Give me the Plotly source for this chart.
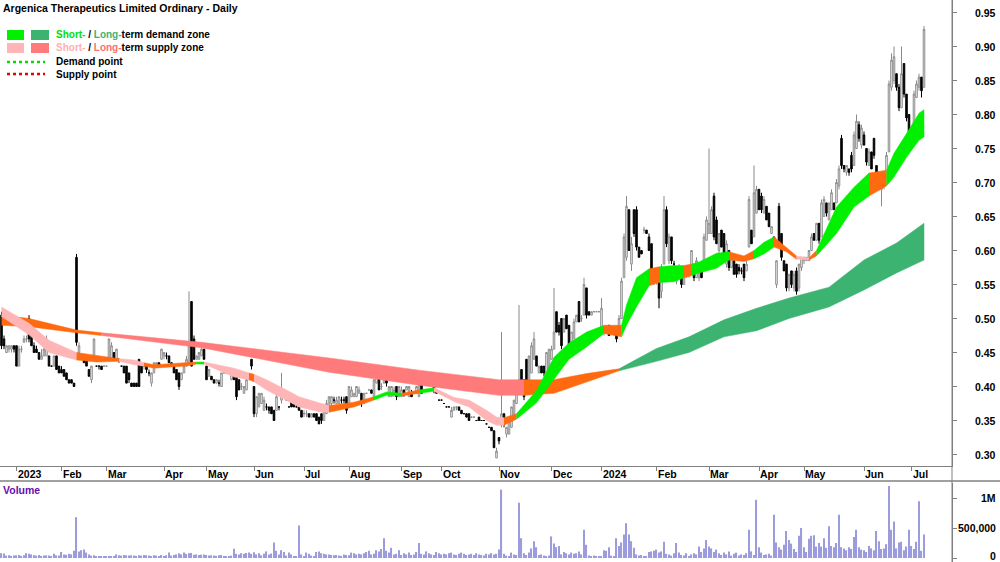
import plotly.graph_objects as go

TITLE = "Argenica Therapeutics Limited Ordinary - Daily"

month_labels = ["2023", "Feb", "Mar", "Apr", "May", "Jun", "Jul", "Aug", "Sep", "Oct", "Nov", "Dec",
                "2024", "Feb", "Mar", "Apr", "May", "Jun", "Jul"]
month_start_session = [6, 24, 42, 65, 82, 101, 121, 139, 160, 176, 199, 220, 240, 262, 283, 303, 321, 345, 364]

price_ticks = [0.30, 0.35, 0.40, 0.45, 0.50, 0.55, 0.60, 0.65, 0.70, 0.75, 0.80, 0.85, 0.90, 0.95]
volume_ticks = [0, 500000, 1000000]
volume_tick_text = ["0", "500,000", "1M"]

# daily prices in cents
open_c = [
    50.5, 47, 45, 45.5, 45.5, 46, 46, 43, 45.5, 46.5,
    47, 50, 49, 46, 45.5, 45, 44, 44.5, 44.5, 44.5,
    43, 43, 44.5, 43, 42.5, 42.5, 42, 41, 41, 40.5,
    59, 45, 44.5, 44.5, 44, 42.5, 41, 44, 43, 43,
    43, 43, 43, 44, 44, 45, 44, 44, 43, 43,
    43, 42, 40.5, 40.5, 40.5, 44, 43, 43, 43, 42,
    40.5, 42, 43, 43.5, 44, 44.5, 44.5, 44.5, 43.5, 43,
    42.5, 42, 41, 42, 43, 43.5, 52.5, 47, 44, 44,
    44.5, 45.5, 43, 41.5, 41.5, 41, 40.5, 40.5, 40, 42,
    42, 42, 41, 42, 41.5, 41, 40, 39, 39.5, 41,
    44, 40, 36, 37, 37.5, 36.5, 37, 37, 37, 36.5,
    36.5, 37, 38, 39.5, 38.5, 37, 38, 37.5, 37, 37,
    36.5, 36, 36, 36, 35.5, 36, 36, 35.5, 36, 35,
    36, 37, 37.5, 38, 37.5, 37.5, 38, 38, 38.5, 37.5,
    38.5, 38.5, 38.5, 39, 39, 37.5, 39, 39.5, 39.5, 38.5,
    40.5, 41.5, 40, 40.5, 42, 38.5, 38.5, 39, 40, 38.5,
    38.5, 39.5, 39.5, 38.5, 39, 39, 39, 38.5, 41, 40.5,
    41, 41, 41, 40, 39.5, 38, 38, 37.5, 37, 37,
    35.5, 36.5, 37, 37, 36.5, 36, 36, 36, 35.5, 35.5,
    35, 35.5, 35, 35, 34.5, 34, 34, 33.5, 29.5, 32.5,
    34.5, 36, 33, 33, 34, 35.5, 37.5, 39.5, 42.5, 41,
    44, 40, 42, 44, 44.5, 42, 43, 43, 42, 42.5,
    44, 45.5, 51, 49, 50, 48, 50.5, 49, 45.5, 47,
    49.5, 52.5, 50, 50.5, 54.5, 51, 50.5, 51, 51, 51,
    48.5, 48, 48.5, 49, 48, 48, 48.5, 48.5, 50, 56,
    59, 66, 58, 66, 66, 60.5, 60, 63, 63, 62,
    61, 57, 55.5, 56.5, 54, 58, 66, 58.5, 62, 58,
    55.5, 57.5, 57, 55, 56.5, 56.5, 57, 57.5, 56, 56,
    57.5, 57.5, 61.5, 62.5, 62.5, 68, 64.5, 60, 63, 62.5,
    58, 60, 57.5, 58.5, 58, 57.5, 57, 58, 57, 60.5,
    63, 62, 65.5, 69, 68, 65.5, 66.5, 65.5, 62.5, 62,
    55, 66.5, 62.5, 58.5, 58, 54.5, 57, 54.5, 57, 54.5,
    57.5, 58.5, 58.5, 58.5, 60, 62.5, 61.5, 64, 62, 65,
    67, 64.5, 66, 67, 67, 69.5, 76.5, 72.5, 71.5, 72,
    74, 72.5, 75, 78.5, 75.5, 77, 75, 72.5, 74.5, 76.5,
    72.5, 71.5, 69, 69.5, 70.5, 74.5, 84, 85, 86, 84,
    81, 87.5, 83, 80, 76, 77, 82.5, 84, 85.5, 84,
]
high_c = [
    51, 47.5, 46, 46, 46, 46, 46, 46, 46, 47.5,
    47.5, 50.5, 49, 46.5, 46, 45, 45.5, 46, 47.5, 44.5,
    43, 44.5, 44.5, 43, 43, 42.5, 42, 41, 41, 40.5,
    59.5, 46.5, 44.5, 44.5, 44, 42.5, 43, 47, 43, 43,
    43, 43, 43, 47, 46.5, 45, 45.5, 44, 43, 43,
    43, 42, 40.5, 40.5, 40.5, 44, 43, 43, 43, 42.5,
    42, 43.5, 43.5, 43.5, 45.5, 45, 45, 44.5, 43.5, 43,
    42.5, 42, 42, 43, 44.5, 54, 52.5, 47.5, 44.5, 45,
    46, 45.5, 43, 42.5, 41.5, 41, 41, 41, 42, 42,
    42, 42, 42, 42, 41.5, 41, 40.5, 40, 41.5, 42,
    44, 40, 38.5, 39, 39, 38.5, 37.5, 37, 37, 36.5,
    40, 37, 42, 39.5, 38.5, 37, 38, 37.5, 37.5, 37,
    36.5, 36.5, 36.5, 36, 36, 36, 36, 35.5, 36, 36.5,
    38, 38.5, 38.5, 38.5, 38.5, 38.5, 38.5, 38.5, 38.5, 40,
    40, 39, 40, 40, 39, 39, 39, 39.5, 39.5, 41,
    43, 41.5, 40.5, 43, 42, 40, 40, 40, 40, 40,
    40, 39.5, 40, 40, 39.5, 39, 40, 41, 41, 41.5,
    41.5, 41.5, 41, 40, 39.5, 38, 38, 37.5, 37, 37,
    37, 37, 37, 37, 36.5, 36, 36, 36, 35.5, 35.5,
    35, 35.5, 35, 35, 34.5, 34, 34, 33.5, 31, 32.5,
    48, 36, 34, 35, 37, 38, 40, 52, 42.5, 41,
    44, 44.5, 46.5, 48, 44.5, 43, 43, 43, 45, 45.5,
    46, 54.5, 51, 49.5, 50, 50, 50.5, 49, 48, 50,
    50.5, 52.5, 50.5, 56, 54.5, 51, 51, 51, 51, 51,
    53, 48.5, 48.5, 49, 48, 48, 48.5, 50.5, 56, 62.5,
    68, 66, 62, 66, 66.5, 60.5, 60, 63.5, 63, 62.5,
    61, 57, 57, 56.5, 58, 68, 66.5, 62.5, 62, 58.5,
    57.5, 58, 57, 57, 57, 57, 60, 57.5, 59, 58,
    57.5, 62.5, 65, 75, 66.5, 68.5, 65, 62.5, 63, 62.5,
    61.5, 60, 59.5, 58.5, 58, 58, 57.5, 58, 58.5, 68,
    63, 72.5, 69.5, 69, 68.5, 68, 66.5, 65.5, 63.5, 62,
    58.5, 67, 62.5, 58.5, 58, 56.5, 57, 57, 57.5, 58,
    59, 59, 59, 60, 62.5, 62.5, 64, 64, 67.5, 68,
    67, 67, 69, 67, 70.5, 72.5, 77, 72.5, 72.5, 72,
    74.5, 77.5, 80, 79, 78.5, 77.5, 75, 75, 74.5, 76.5,
    72.5, 71.5, 71, 71.5, 74.5, 85, 89, 90, 86, 84.5,
    90, 87.5, 83, 80, 78, 83.5, 85, 86, 85.5, 93,
]
low_c = [
    45.5, 45.5, 45, 45, 45, 45, 43, 43, 45, 46.5,
    46.5, 46.5, 46, 45, 45, 44, 44, 44.5, 44.5, 43,
    43, 43, 42.5, 42, 42, 41.5, 41, 40.5, 40.5, 40,
    46, 45, 44, 43.5, 43, 41.5, 40.5, 44, 43, 42.5,
    42.5, 43, 43, 44, 44, 44, 44, 43.5, 43, 42,
    40.5, 40.5, 40, 40, 40, 40, 42, 42.5, 42, 41.5,
    40, 42, 43, 43, 44, 44, 44, 43.5, 43, 42,
    41, 39.5, 41, 42, 43, 43.5, 43, 44, 44, 44,
    44.5, 44, 41, 41.5, 41, 40.5, 40.5, 40, 40, 42,
    42, 42, 41, 41, 38, 39.5, 39.5, 39, 39.5, 41,
    42.5, 35.5, 35.5, 37, 37.5, 36.5, 36.5, 36, 36, 35,
    36.5, 36.5, 37.5, 38.5, 38, 37, 37, 37, 37, 36.5,
    35.5, 35.5, 35.5, 35.5, 35.5, 35.5, 35, 34.5, 34.5, 35,
    36, 37, 37, 37.5, 37.5, 37.5, 37.5, 37.5, 36, 37.5,
    38.5, 38.5, 38.5, 39, 37, 37.5, 39, 39.5, 39, 38.5,
    40.5, 39.5, 39.5, 40.5, 40, 38.5, 38.5, 38.5, 38, 38.5,
    38.5, 38.5, 39.5, 38.5, 38.5, 39, 39, 38.5, 39, 40.5,
    41, 41, 40.5, 39, 39, 38, 38, 37.5, 37, 37,
    35.5, 36.5, 36.5, 36.5, 36, 36, 35.5, 35, 35.5, 35.5,
    35, 35, 35, 35, 34.5, 34, 33.5, 31, 29.5, 31.5,
    34, 34, 32.5, 33, 34, 35.5, 37.5, 39.5, 40, 38,
    39.5, 40, 42, 44, 43, 42, 42, 41.5, 41.5, 42.5,
    44, 45.5, 48, 47.5, 45.5, 48, 48.5, 45.5, 45.5, 47,
    49.5, 49.5, 49.5, 50.5, 50, 50.5, 50.5, 51, 51, 51,
    48.5, 47.5, 48, 47.5, 48, 47.5, 46.5, 48.5, 50, 56,
    58.5, 60, 57, 62, 60, 59, 59.5, 62.5, 62.5, 60,
    56, 55, 55, 51.5, 53, 58, 60.5, 58, 58, 57.5,
    55, 57, 54.5, 55, 56, 56, 56.5, 55.5, 56, 55.5,
    56, 57.5, 61.5, 62.5, 62.5, 61.5, 61, 59.5, 60.5, 59,
    57.5, 57, 57.5, 56.5, 56, 56.5, 56.5, 55.5, 57, 60.5,
    61, 62, 65.5, 66, 65.5, 65.5, 64.5, 63.5, 62.5, 61,
    54.5, 60.5, 58.5, 57, 54, 54, 54.5, 54, 53.5, 54,
    57, 58, 58.5, 58.5, 60, 61.5, 61.5, 61, 62, 65,
    65, 64.5, 66, 66, 67, 69, 72, 71.5, 71, 71,
    71.5, 72.5, 75, 76, 75, 75.5, 72.5, 72.5, 72, 73.5,
    69, 69, 66.5, 69, 70.5, 74.5, 83.5, 84.5, 83.5, 80.5,
    81, 82.5, 79, 74.5, 75.5, 76.5, 82.5, 83.5, 82.5, 84,
]
close_c = [
    46, 46, 46, 46, 46, 45.5, 43, 45.5, 45.5, 47,
    47, 47, 46, 45, 45, 44, 44.5, 45.5, 47, 43,
    43, 44.5, 42.5, 42, 42, 41.5, 41, 40.5, 40.5, 40,
    46.5, 46, 44, 43.5, 43, 41.5, 43, 47, 43, 43,
    42.5, 43, 43, 47, 46, 44, 45.5, 44, 43, 42,
    40.5, 41, 40, 40, 40, 40, 42, 43, 42.5, 42,
    42, 43.5, 43.5, 43, 45.5, 45, 44.5, 43.5, 43, 42,
    41, 40, 42, 43, 44, 46, 43, 44, 44.5, 45,
    45.5, 44, 41, 42.5, 41, 40.5, 41, 40.5, 42, 42,
    42, 42, 42, 41, 38.5, 39.5, 40, 40, 41, 41.5,
    43, 36, 38.5, 39, 39, 38, 37, 36.5, 36, 35,
    38.5, 37, 39.5, 38.5, 38, 37, 37, 37, 37, 36.5,
    35.5, 36, 36, 35.5, 36, 35.5, 35, 34.5, 35, 36.5,
    37.5, 38.5, 38.5, 38, 38, 38.5, 38, 38, 36.5, 40,
    39.5, 39, 40, 39.5, 37.5, 39, 39, 39.5, 39, 41,
    42.5, 39.5, 40, 42.5, 40.5, 40, 40, 39.5, 38.5, 40,
    39.5, 39, 40, 40, 38.5, 39, 40, 40.5, 39, 41.5,
    41, 41, 40.5, 39.5, 39, 38, 38, 37.5, 37, 37,
    36.5, 37, 37, 36.5, 36, 36, 35.5, 35, 35.5, 35.5,
    35, 35, 35, 35, 34.5, 34, 33.5, 31, 30.5, 32,
    36, 34.5, 34, 35, 37, 38, 39.5, 41, 40, 38.5,
    39.5, 44.5, 46, 47, 43, 43, 42, 42, 45, 45.5,
    45.5, 48, 48, 48, 46, 50, 48.5, 45.5, 48, 49.5,
    50.5, 49.5, 50, 55, 50.5, 50.5, 51, 51, 51, 51,
    51.5, 48.5, 48, 47.5, 48, 48, 47, 50, 55.5, 62,
    66.5, 60, 61, 62.5, 60.5, 59, 59.5, 63, 62.5, 60,
    56.5, 55.5, 56.5, 53, 57.5, 66, 61, 62, 58.5, 58,
    57.5, 57.5, 55, 56.5, 56.5, 56.5, 60, 56, 58.5, 57.5,
    56, 62, 64.5, 64, 66, 62, 61, 62.5, 60.5, 59,
    61, 57.5, 59, 56.5, 56.5, 57, 57, 56, 58, 67.5,
    61, 68.5, 69, 66, 66, 67.5, 64.5, 63.5, 63.5, 61.5,
    58.5, 60.5, 59, 57, 54.5, 56.5, 55, 56.5, 54, 58,
    59, 59, 59, 60, 62, 61.5, 64, 61.5, 67, 67.5,
    65.5, 67, 68.5, 66, 70, 72, 72.5, 72, 72.5, 71.5,
    72, 77, 79, 76.5, 78, 75.5, 73, 74.5, 72, 74,
    69.5, 69, 71, 71.5, 74, 84.5, 88, 88.5, 84, 81,
    86, 83, 79.5, 76, 77.5, 83, 84.5, 85.5, 83.5, 92.5,
]
# daily volume in thousands of shares
volume_k = [
    80, 75, 40, 45, 35, 40, 45, 50, 35, 45,
    80, 70, 60, 45, 40, 50, 35, 40, 45, 40,
    30, 70, 45, 40, 100, 60, 55, 70, 60, 120,
    680, 110, 130, 140, 90, 60, 40, 45, 30, 25,
    30, 25, 25, 35, 30, 25, 60, 45, 40, 50,
    45, 40, 45, 40, 35, 45, 40, 50, 45, 40,
    30, 45, 40, 35, 50, 35, 45, 90, 40, 50,
    60, 80, 60, 90, 70, 80, 85, 55, 60, 50,
    55, 60, 50, 40, 45, 40, 35, 45, 50, 30,
    25, 20, 40, 155, 70, 60, 80, 70, 85, 90,
    70, 95, 60, 80, 45, 70, 110, 60, 75, 260,
    120, 60, 130, 100, 40, 90, 60, 30, 20, 540,
    60, 20, 90, 70, 40, 30, 100, 110, 80, 70,
    60, 60, 50, 45, 50, 40, 35, 60, 50, 45,
    90, 80, 60, 70, 60, 80, 100, 120, 60, 70,
    130, 110, 150, 330, 120, 90, 170, 60, 70, 130,
    50, 80, 60, 90, 50, 60, 100, 250, 70, 60,
    110, 80, 60, 50, 100, 80, 60, 70, 60, 80,
    90, 60, 50, 70, 90, 70, 50, 60, 70, 50,
    80, 60, 50, 40, 70, 60, 80, 60, 70, 140,
    1140, 70, 40, 30, 90, 60, 50, 920, 330, 80,
    50, 90, 160, 280, 180, 50, 60, 40, 30, 40,
    360, 240, 180, 200, 60, 100, 80, 60, 90, 70,
    80, 110, 60, 470, 220, 40, 30, 40, 30, 30,
    20, 130, 120, 180, 40, 30, 330, 200, 260, 390,
    580, 390, 280, 170, 60, 40, 50, 20, 30, 100,
    110, 120, 140, 90, 110, 270, 70, 60, 40, 80,
    250, 90, 50, 40, 80, 30, 60, 80, 60, 190,
    100, 160, 300, 190, 160, 100, 140, 80, 50, 90,
    60, 110, 40, 70, 90, 40, 60, 50, 80, 470,
    110, 50, 970, 180, 90, 50, 60, 70, 40, 720,
    260, 180, 140, 220, 450, 300, 240, 150, 100, 370,
    500, 180, 100, 320, 370, 380, 190, 250, 190, 330,
    170, 530, 200, 180, 250, 720, 180, 160, 130, 180,
    150, 350, 470, 180, 140, 130, 100, 200, 160, 130,
    450, 280, 150, 160, 230, 1200, 470, 610, 160, 260,
    270, 130, 190, 470, 200, 150, 270, 945, 120, 390,
]

# short-term zone (upper / lower edge, state of the zone from that session on)
st_session = [0, 11, 19, 30, 38, 47, 53, 57, 61, 69, 74, 78, 81, 93, 99, 101, 106, 114, 119, 127,
              131, 141, 149, 154, 160, 167, 173, 181, 187, 194, 198, 201, 206, 214, 221, 227, 234, 241, 248, 250,
              254, 259, 263, 269, 273, 276, 279, 286, 291, 297, 301, 305, 309, 314, 318, 323, 326, 334, 341, 347,
              354, 357, 362, 367, 369]
st_upper = [0.517, 0.493, 0.468, 0.450, 0.446, 0.441, 0.439, 0.435, 0.432, 0.434, 0.435, 0.436, 0.436, 0.427, 0.420,
            0.418, 0.410, 0.395, 0.385, 0.376, 0.372, 0.377, 0.385, 0.392, 0.390, 0.395, 0.398, 0.384, 0.380, 0.365,
            0.355, 0.354, 0.360, 0.394, 0.443, 0.464, 0.480, 0.490, 0.490, 0.520, 0.560, 0.573, 0.576, 0.578, 0.578,
            0.580, 0.583, 0.596, 0.598, 0.592, 0.600, 0.612, 0.620, 0.605, 0.592, 0.589, 0.600, 0.664, 0.693, 0.714,
            0.718, 0.743, 0.772, 0.802, 0.807]
st_lower = [0.503, 0.476, 0.450, 0.439, 0.436, 0.437, 0.432, 0.430, 0.427, 0.429, 0.430, 0.433, 0.433, 0.414, 0.410,
            0.407, 0.395, 0.380, 0.370, 0.363, 0.362, 0.370, 0.380, 0.387, 0.386, 0.390, 0.393, 0.378, 0.370, 0.350,
            0.343, 0.343, 0.352, 0.376, 0.410, 0.440, 0.458, 0.478, 0.473, 0.490, 0.517, 0.548, 0.553, 0.554, 0.560,
            0.563, 0.567, 0.574, 0.586, 0.584, 0.588, 0.595, 0.605, 0.598, 0.587, 0.586, 0.592, 0.625, 0.664, 0.680,
            0.695, 0.708, 0.737, 0.762, 0.767]
st_state = ["S", "S", "S", "O", "O", "S", "S", "O", "O", "O", "O", "D", "S", "S", "O", "S", "S", "S", "S", "S",
            "O", "O", "D", "D", "O", "D", "S", "S", "S", "S", "S", "O", "D", "D", "D", "D", "D", "O", "D", "D",
            "D", "O", "D", "D", "O", "D", "D", "D", "O", "O", "D", "D", "O", "O", "S", "O", "D", "D", "D", "O",
            "D", "D", "D", "D", "D"]

# long-term zone
lt_session = [0, 11, 30, 40, 80, 131, 167, 199, 209, 221, 234, 247, 262, 275, 289, 302, 315, 331, 345, 358, 369]
lt_upper = [0.505, 0.500, 0.483, 0.479, 0.465, 0.442, 0.424, 0.410, 0.410, 0.410, 0.419, 0.426, 0.456, 0.473,
            0.498, 0.515, 0.530, 0.546, 0.586, 0.611, 0.640]
lt_lower = [0.490, 0.488, 0.479, 0.475, 0.457, 0.421, 0.402, 0.387, 0.387, 0.390, 0.406, 0.423, 0.437, 0.450,
            0.473, 0.482, 0.500, 0.517, 0.542, 0.567, 0.586]
lt_state = ["O", "O", "O", "L", "L", "L", "L", "L", "O", "O", "O", "G", "G", "G", "G", "G", "G", "G", "G", "G", "G"]

ZONE_COLORS = {
    "S": "#FFB5B5",   # short-term supply
    "D": "#00F000",   # short-term demand
    "L": "#FF7B7B",   # long-term supply
    "G": "#3CB371",   # long-term demand
    "O": "#FF6A10",   # transition
}

FONT = "Liberation Sans, Arial, sans-serif"
W, H = 1000, 562
PLOT_W = 952

n = min(len(open_c), len(high_c), len(low_c), len(close_c), len(volume_k))
sessions = list(range(n))

fig = go.Figure()


def add_zone(sess, up, lo, state):
    m = len(sess)
    i = 0
    while i < m - 1:
        j = i
        while j + 1 < m - 1 and state[j + 1] == state[i]:
            j += 1
        xs = sess[i:j + 2] + sess[i:j + 2][::-1]
        ys = up[i:j + 2] + lo[i:j + 2][::-1]
        fig.add_trace(go.Scatter(
            x=xs, y=ys, mode="lines", fill="toself",
            fillcolor=ZONE_COLORS[state[i]], line=dict(width=0.5, color=ZONE_COLORS[state[i]]),
            hoverinfo="skip", showlegend=False, xaxis="x", yaxis="y"))
        i = j + 1


add_zone(lt_session, lt_upper, lt_lower, lt_state)
add_zone(st_session, st_upper, st_lower, st_state)

fig.add_trace(go.Candlestick(
    x=sessions,
    open=[v / 100 for v in open_c[:n]],
    high=[v / 100 for v in high_c[:n]],
    low=[v / 100 for v in low_c[:n]],
    close=[v / 100 for v in close_c[:n]],
    increasing=dict(line=dict(color="#8A8A8A", width=1), fillcolor="white"),
    decreasing=dict(line=dict(color="black", width=1), fillcolor="black"),
    whiskerwidth=0, showlegend=False, xaxis="x", yaxis="y"))

fig.add_trace(go.Bar(
    x=sessions, y=[v * 1000 for v in volume_k[:n]],
    marker=dict(color="#9C9CDC", line=dict(width=0)), width=0.45,
    showlegend=False, xaxis="x2", yaxis="y2"))

x_range = [-0.6, 380.2]
axis_font = dict(family=FONT, size=10.5, color="black", weight="bold")
text_font = dict(family=FONT, size=10, color="black", weight="bold")

fig.update_layout(
    width=W, height=H,
    margin=dict(l=0, r=W - PLOT_W, t=0, b=0),
    paper_bgcolor="white", plot_bgcolor="white",
    boxgap=0.12,
    showlegend=False,
    xaxis=dict(domain=[0, 1], anchor="y", range=x_range, showgrid=False, zeroline=False,
               showline=True, linecolor="#808080", linewidth=1, ticks="outside", ticklen=4,
               tickcolor="#808080", tickvals=month_start_session, showticklabels=False,
               rangeslider=dict(visible=False), fixedrange=True),
    yaxis=dict(domain=[1 - 466 / H, 1], anchor="x", side="right", range=[0.2831, 0.9684],
               showgrid=False, zeroline=False, showline=True, linecolor="#808080", linewidth=1,
               ticks="outside", ticklen=4, tickcolor="#808080", tickvals=price_ticks,
               showticklabels=False),
    xaxis2=dict(domain=[0, 1], anchor="y2", range=x_range, visible=False, fixedrange=True),
    yaxis2=dict(domain=[0, 79 / H], anchor="x2", side="right", range=[-66667, 1250000],
                showgrid=False, zeroline=False, showline=True, linecolor="#808080", linewidth=1,
                ticks="outside", ticklen=4, tickcolor="#808080", tickvals=volume_ticks,
                showticklabels=False),
)

shapes = [
    # panel separator
    dict(type="line", xref="paper", yref="paper", x0=0, x1=W / PLOT_W, y0=1 - 481 / H, y1=1 - 481 / H,
         line=dict(color="#A0A0A0", width=2)),
    # continuous right axis line
    dict(type="line", xref="paper", yref="paper", x0=1, x1=1, y0=0, y1=1,
         line=dict(color="#808080", width=1)),
]


def px_x(p):
    return p / PLOT_W


def px_y(p):
    return 1 - p / H


# legend swatches
for (x0, x1, y0, y1, col) in [(7, 24, 30, 40, ZONE_COLORS["D"]), (31, 49, 30, 40, ZONE_COLORS["G"]),
                              (7, 24, 43, 53, ZONE_COLORS["S"]), (31, 49, 43, 53, ZONE_COLORS["L"])]:
    shapes.append(dict(type="rect", xref="paper", yref="paper", x0=px_x(x0), x1=px_x(x1),
                       y0=px_y(y1), y1=px_y(y0), fillcolor=col, line=dict(width=0)))
shapes.append(dict(type="line", xref="paper", yref="paper", x0=px_x(7), x1=px_x(45), y0=px_y(62), y1=px_y(62),
                   line=dict(color="#00DD00", width=2.5, dash="dot")))
shapes.append(dict(type="line", xref="paper", yref="paper", x0=px_x(7), x1=px_x(45), y0=px_y(74), y1=px_y(74),
                   line=dict(color="#EE0000", width=2.5, dash="dot")))

annotations = [
    dict(text=TITLE, xref="paper", yref="paper", x=px_x(1), y=px_y(8), xanchor="left", yanchor="middle",
         showarrow=False, font=dict(family=FONT, size=10.5, color="black", weight="bold")),
    dict(text="<span style='color:#00E000'>Short-</span> / <span style='color:#3CB371'>Long-</span>term demand zone",
         xref="paper", yref="paper", x=px_x(54), y=px_y(35), xanchor="left", yanchor="middle",
         showarrow=False, font=text_font),
    dict(text="<span style='color:#FFB0B0'>Short-</span> / <span style='color:#FF6F6F'>Long-</span>term supply zone",
         xref="paper", yref="paper", x=px_x(54), y=px_y(48), xanchor="left", yanchor="middle",
         showarrow=False, font=text_font),
    dict(text="Demand point", xref="paper", yref="paper", x=px_x(54), y=px_y(62), xanchor="left",
         yanchor="middle", showarrow=False, font=text_font),
    dict(text="Supply point", xref="paper", yref="paper", x=px_x(54), y=px_y(74), xanchor="left",
         yanchor="middle", showarrow=False, font=text_font),
    dict(text="Volume", xref="paper", yref="paper", x=px_x(1), y=px_y(490), xanchor="left", yanchor="middle",
         showarrow=False, font=dict(family=FONT, size=10.5, color="#6A0DAD", weight="bold")),
]
for lbl, s in zip(month_labels, month_start_session):
    annotations.append(dict(text=lbl, xref="x", yref="paper", x=s, y=px_y(474), xanchor="left",
                            yanchor="middle", xshift=-1, showarrow=False, font=axis_font))
for val in price_ticks:
    annotations.append(dict(text=f"{val:.2f}", xref="paper", yref="y", x=px_x(998), y=val, xanchor="right",
                            yanchor="middle", showarrow=False, font=axis_font))
for val, txt in zip(volume_ticks, volume_tick_text):
    annotations.append(dict(text=txt, xref="paper", yref="y2", x=px_x(998), y=val, xanchor="right",
                            yanchor="middle", yshift=(2 if val == 0 else 0), showarrow=False, font=axis_font))

fig.update_layout(shapes=shapes, annotations=annotations)
fig.write_html("out.html")
